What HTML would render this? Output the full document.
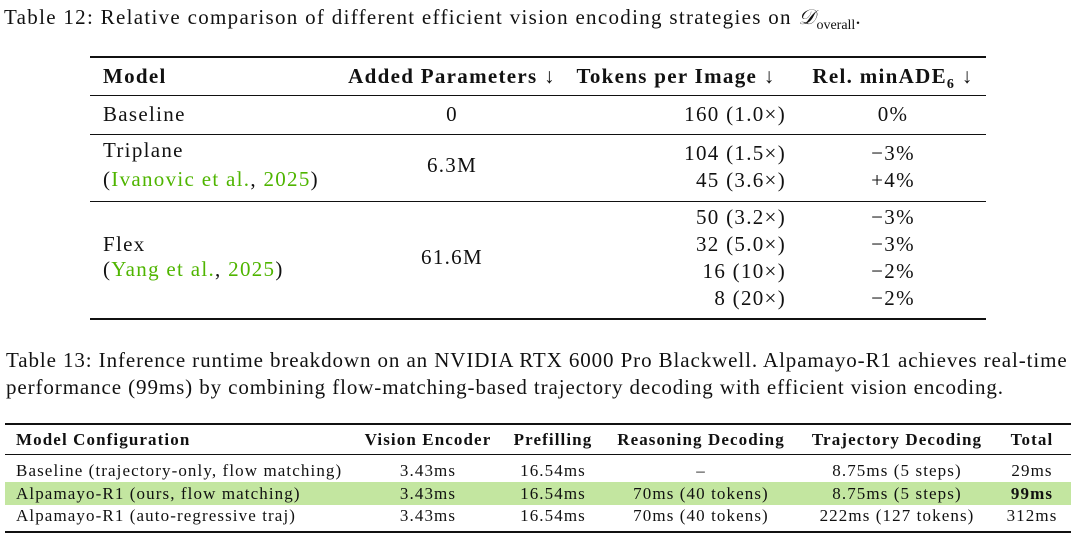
<!DOCTYPE html>
<html><head><meta charset="utf-8">
<style>
body{margin:0;width:1080px;height:538px;background:#fff;position:relative;overflow:hidden;font-family:"Liberation Serif","DejaVu Serif",serif;color:#111}
.t{position:absolute;white-space:nowrap;line-height:1}
.a{font-size:21px;letter-spacing:1.3px}
.b{font-size:17px;letter-spacing:1.1px}
.c{transform:translateX(-50%)}
.r{transform:translateX(-100%)}
.bold{font-weight:bold}
.g{color:#4fb500}
.rule{position:absolute;background:#111}
</style></head><body>
<div class="t" style="left:4px;top:7px;font-size:21px;letter-spacing:1.3px">Table 12: Relative comparison of different efficient vision encoding strategies on <i>𝒟</i><sub style="font-size:14px;letter-spacing:0">overall</sub>.</div>

<div class="rule" style="left:90px;top:56px;width:896px;height:2px"></div>
<div class="t a bold" style="left:103px;top:66px">Model</div>
<div class="t a bold c" style="left:452px;top:66px">Added Parameters ↓</div>
<div class="t a bold c" style="left:676px;top:66px">Tokens per Image ↓</div>
<div class="t a bold c" style="left:893px;top:66px">Rel. minADE<sub style="font-size:14px">6</sub> ↓</div>
<div class="rule" style="left:90px;top:95px;width:896px;height:1px"></div>

<div class="t a" style="left:103px;top:104px">Baseline</div>
<div class="t a c" style="left:452px;top:104px">0</div>
<div class="t a r" style="left:786px;top:104px">160 (1.0×)</div>
<div class="t a c" style="left:893px;top:104px">0%</div>
<div class="rule" style="left:90px;top:134px;width:896px;height:1px"></div>

<div class="t a" style="left:103px;top:140px">Triplane</div>
<div class="t a" style="left:103px;top:169px">(<span class="g">Ivanovic et al.</span>, <span class="g">2025</span>)</div>
<div class="t a c" style="left:452px;top:155px">6.3M</div>
<div class="t a r" style="left:786px;top:143px">104 (1.5×)</div>
<div class="t a r" style="left:786px;top:170px">45 (3.6×)</div>
<div class="t a c" style="left:893px;top:143px">−3%</div>
<div class="t a c" style="left:893px;top:170px">+4%</div>
<div class="rule" style="left:90px;top:201px;width:896px;height:1px"></div>

<div class="t a" style="left:103px;top:234px">Flex</div>
<div class="t a" style="left:103px;top:259px">(<span class="g">Yang et al.</span>, <span class="g">2025</span>)</div>
<div class="t a c" style="left:452px;top:247px">61.6M</div>
<div class="t a r" style="left:786px;top:207px">50 (3.2×)</div>
<div class="t a r" style="left:786px;top:234px">32 (5.0×)</div>
<div class="t a r" style="left:786px;top:261px">16 (10×)</div>
<div class="t a r" style="left:786px;top:288px">8 (20×)</div>
<div class="t a c" style="left:893px;top:207px">−3%</div>
<div class="t a c" style="left:893px;top:234px">−3%</div>
<div class="t a c" style="left:893px;top:261px">−2%</div>
<div class="t a c" style="left:893px;top:288px">−2%</div>
<div class="rule" style="left:90px;top:318px;width:896px;height:2px"></div>

<div class="t" style="left:6px;top:347px;font-size:21px;line-height:27px;letter-spacing:0.9px">Table 13: Inference runtime breakdown on an NVIDIA RTX 6000 Pro Blackwell. Alpamayo-R1 achieves real-time<br>performance (99ms) by combining flow-matching-based trajectory decoding with efficient vision encoding.</div>

<div class="rule" style="left:5px;top:423px;width:1066px;height:2px"></div>
<div class="t b bold" style="left:16px;top:431px">Model Configuration</div>
<div class="t b bold c" style="left:428px;top:431px">Vision Encoder</div>
<div class="t b bold c" style="left:553px;top:431px">Prefilling</div>
<div class="t b bold c" style="left:701px;top:431px">Reasoning Decoding</div>
<div class="t b bold c" style="left:897px;top:431px">Trajectory Decoding</div>
<div class="t b bold c" style="left:1032px;top:431px">Total</div>
<div class="rule" style="left:5px;top:454px;width:1066px;height:1px"></div>

<div style="position:absolute;left:5px;top:482px;width:1066px;height:23px;background:#c3e6a0"></div>

<div class="t b" style="left:16px;top:462px">Baseline (trajectory-only, flow matching)</div>
<div class="t b c" style="left:428px;top:462px">3.43ms</div>
<div class="t b c" style="left:553px;top:462px">16.54ms</div>
<div class="t b c" style="left:701px;top:462px">–</div>
<div class="t b c" style="left:897px;top:462px">8.75ms (5 steps)</div>
<div class="t b c" style="left:1032px;top:462px">29ms</div>

<div class="t b" style="left:16px;top:485px">Alpamayo-R1 (ours, flow matching)</div>
<div class="t b c" style="left:428px;top:485px">3.43ms</div>
<div class="t b c" style="left:553px;top:485px">16.54ms</div>
<div class="t b c" style="left:701px;top:485px">70ms (40 tokens)</div>
<div class="t b c" style="left:897px;top:485px">8.75ms (5 steps)</div>
<div class="t b c bold" style="left:1032px;top:485px">99ms</div>

<div class="t b" style="left:16px;top:507px">Alpamayo-R1 (auto-regressive traj)</div>
<div class="t b c" style="left:428px;top:507px">3.43ms</div>
<div class="t b c" style="left:553px;top:507px">16.54ms</div>
<div class="t b c" style="left:701px;top:507px">70ms (40 tokens)</div>
<div class="t b c" style="left:897px;top:507px">222ms (127 tokens)</div>
<div class="t b c" style="left:1032px;top:507px">312ms</div>
<div class="rule" style="left:5px;top:531px;width:1066px;height:2px"></div>
</body></html>
